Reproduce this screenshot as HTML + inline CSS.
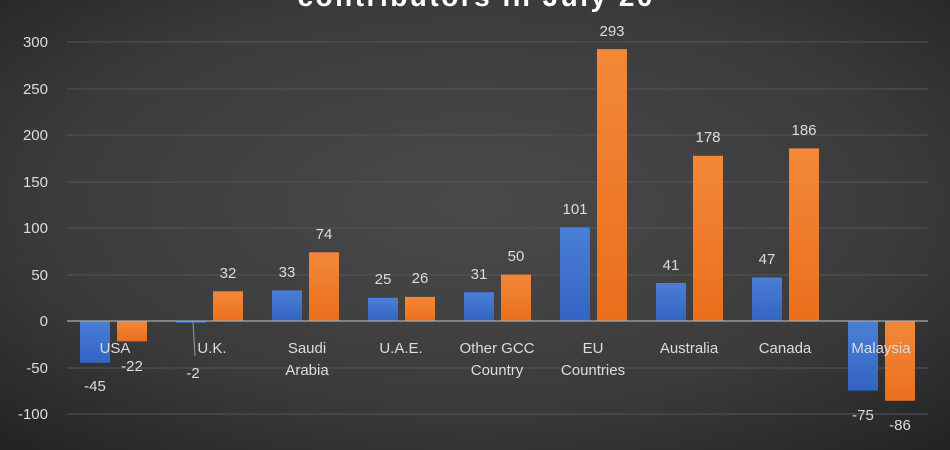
<!DOCTYPE html>
<html><head><meta charset="utf-8"><style>
html,body{margin:0;padding:0;width:950px;height:450px;overflow:hidden}
svg{display:block}
text{font-family:"Liberation Sans",sans-serif}
</style></head><body>
<svg width="950" height="450" viewBox="0 0 950 450" xmlns="http://www.w3.org/2000/svg">
<defs>
<radialGradient id="bg" cx="0.5" cy="0.45" r="0.75">
<stop offset="0" stop-color="#4a4a4a"/><stop offset="0.6" stop-color="#3b3b3b"/><stop offset="1" stop-color="#222"/>
</radialGradient>
<linearGradient id="bl" x1="0" y1="0" x2="0" y2="1"><stop offset="0" stop-color="#4a7fd6"/><stop offset="1" stop-color="#3463c4"/></linearGradient>
<linearGradient id="or" x1="0" y1="0" x2="0" y2="1"><stop offset="0" stop-color="#f3883a"/><stop offset="1" stop-color="#ea6f1c"/></linearGradient>
</defs>
<rect width="950" height="450" fill="url(#bg)"/>
<text x="475" y="6" text-anchor="middle" font-size="28" font-weight="bold" fill="#fff" textLength="355">contributors in July 20</text>
<g stroke="#555" stroke-width="1">
<line x1="67" x2="928" y1="42" y2="42"/><line x1="67" x2="928" y1="89" y2="89"/>
<line x1="67" x2="928" y1="135" y2="135"/><line x1="67" x2="928" y1="182" y2="182"/>
<line x1="67" x2="928" y1="228" y2="228"/><line x1="67" x2="928" y1="275" y2="275"/>
<line x1="67" x2="928" y1="368" y2="368"/><line x1="67" x2="928" y1="414" y2="414"/>
</g>
<g font-size="15" fill="#ddd" text-anchor="end">
<text x="48" y="47">300</text><text x="48" y="94">250</text><text x="48" y="140">200</text>
<text x="48" y="187">150</text><text x="48" y="233">100</text><text x="48" y="280">50</text>
<text x="48" y="326">0</text><text x="48" y="373">-50</text><text x="48" y="419">-100</text>
</g>
<g fill="url(#bl)">
<rect x="80" y="321" width="30" height="41.8"/>
<rect x="176" y="321" width="30" height="1.9"/>
<rect x="272" y="290.4" width="30" height="30.6"/>
<rect x="368" y="297.8" width="30" height="23.2"/>
<rect x="464" y="292.2" width="30" height="28.8"/>
<rect x="560" y="227.3" width="30" height="93.7"/>
<rect x="656" y="283" width="30" height="38"/>
<rect x="752" y="277.4" width="30" height="43.6"/>
<rect x="848" y="321" width="30" height="69.6"/>
</g>
<g fill="url(#or)">
<rect x="117" y="321" width="30" height="20.4"/>
<rect x="213" y="291.3" width="30" height="29.7"/>
<rect x="309" y="252.3" width="30" height="68.7"/>
<rect x="405" y="296.9" width="30" height="24.1"/>
<rect x="501" y="274.6" width="30" height="46.4"/>
<rect x="597" y="49.1" width="30" height="271.9"/>
<rect x="693" y="155.8" width="30" height="165.2"/>
<rect x="789" y="148.4" width="30" height="172.6"/>
<rect x="885" y="321" width="30" height="79.8"/>
</g>
<line x1="67" x2="928" y1="321" y2="321" stroke="#aaa" stroke-width="1.2"/>
<line x1="193" x2="195" y1="322" y2="356" stroke="#999" stroke-width="1"/>
<g font-size="15" fill="#ddd" text-anchor="middle">
<text x="95" y="391">-45</text><text x="132" y="371">-22</text>
<text x="193" y="378">-2</text><text x="228" y="278">32</text>
<text x="287" y="277">33</text><text x="324" y="239">74</text>
<text x="383" y="284">25</text><text x="420" y="283">26</text>
<text x="479" y="279">31</text><text x="516" y="261">50</text>
<text x="575" y="214">101</text><text x="612" y="36">293</text>
<text x="671" y="270">41</text><text x="708" y="142">178</text>
<text x="767" y="264">47</text><text x="804" y="135">186</text>
<text x="863" y="420">-75</text><text x="900" y="430">-86</text>
</g>
<g font-size="15" fill="#ddd" text-anchor="middle">
<text x="115" y="353">USA</text>
<text x="212" y="353">U.K.</text>
<text x="307" y="353">Saudi</text><text x="307" y="375">Arabia</text>
<text x="401" y="353">U.A.E.</text>
<text x="497" y="353">Other GCC</text><text x="497" y="375">Country</text>
<text x="593" y="353">EU</text><text x="593" y="375">Countries</text>
<text x="689" y="353">Australia</text>
<text x="785" y="353">Canada</text>
<text x="881" y="353">Malaysia</text>
</g>
</svg>
</body></html>
